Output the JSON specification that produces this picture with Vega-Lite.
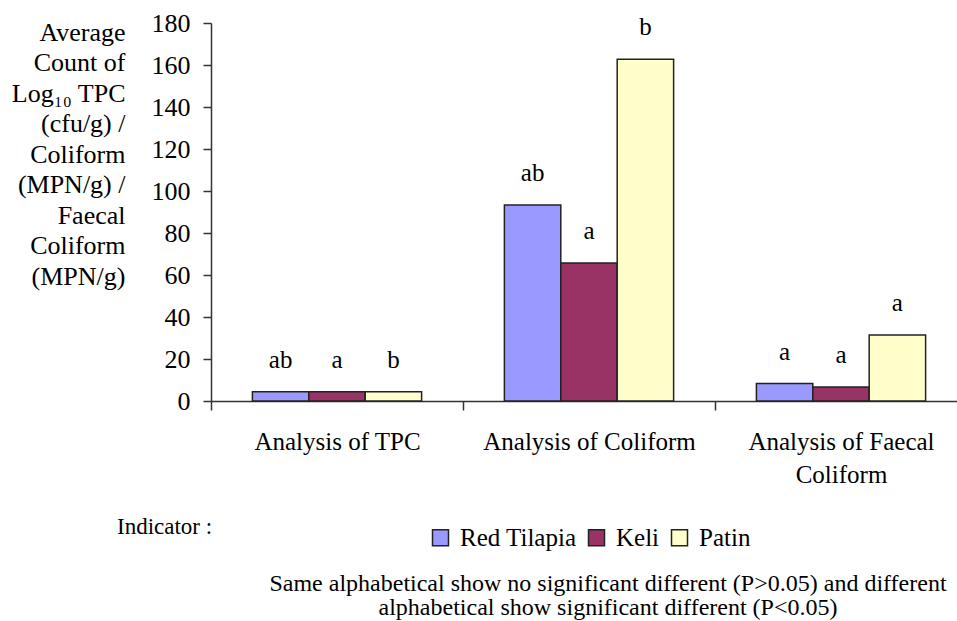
{
  "$schema": "https://vega.github.io/schema/vega-lite/v6.json",
  "autosize": {"type": "none"},
  "width": 746,
  "height": 378,
  "padding": {"left": 211, "top": 23, "right": 0, "bottom": 220},
  "background": "white",
  "config": {
    "font": "Times New Roman, Liberation Serif, serif",
    "view": {"stroke": null},
    "axis": {"labelFont": "Times New Roman, Liberation Serif, serif", "titleFont": "Times New Roman, Liberation Serif, serif", "labelColor": "black", "titleColor": "black", "domainColor": "#333", "tickColor": "#333", "domainWidth": 1.5, "tickWidth": 1.5, "grid": false},
    "legend": {"labelFont": "Times New Roman, Liberation Serif, serif", "titleFont": "Times New Roman, Liberation Serif, serif"},
    "title": {"font": "Times New Roman, Liberation Serif, serif"},
    "text": {"font": "Times New Roman, Liberation Serif, serif"}
  },
  "title": {
    "text": ["Same alphabetical show no significant different (P>0.05) and different", "alphabetical show significant different (P<0.05)"],
    "orient": "bottom",
    "anchor": "middle",
    "frame": "group",
    "fontSize": 24,
    "fontWeight": "normal",
    "lineHeight": 24,
    "color": "black",
    "dx": 24,
    "offset": 12
  },
  "data": {
    "values": [
      {"analysis": "Analysis of TPC", "fish": "Red Tilapia", "value": 4.4, "sig": "ab"},
      {"analysis": "Analysis of TPC", "fish": "Keli", "value": 4.4, "sig": "a"},
      {"analysis": "Analysis of TPC", "fish": "Patin", "value": 4.4, "sig": "b"},
      {"analysis": "Analysis of Coliform", "fish": "Red Tilapia", "value": 93.3, "sig": "ab"},
      {"analysis": "Analysis of Coliform", "fish": "Keli", "value": 65.7, "sig": "a"},
      {"analysis": "Analysis of Coliform", "fish": "Patin", "value": 162.7, "sig": "b"},
      {"analysis": "Analysis of Faecal Coliform", "fish": "Red Tilapia", "value": 8.3, "sig": "a"},
      {"analysis": "Analysis of Faecal Coliform", "fish": "Keli", "value": 6.7, "sig": "a"},
      {"analysis": "Analysis of Faecal Coliform", "fish": "Patin", "value": 31.4, "sig": "a"}
    ]
  },
  "encoding": {
    "x": {
      "field": "analysis",
      "type": "nominal",
      "sort": ["Analysis of TPC", "Analysis of Coliform", "Analysis of Faecal Coliform"],
      "scale": {"range": [0, 756], "paddingInner": 0, "paddingOuter": 0},
      "axis": {
        "title": null,
        "labelAngle": 0,
        "labelFontSize": 25,
        "labelPadding": 19,
        "labelBaseline": "top",
        "labelLineHeight": 33,
        "labelLimit": 400,
        "tickSize": 9,
        "tickBand": "extent",
        "labelExpr": "datum.label == 'Analysis of Faecal Coliform' ? ['Analysis of Faecal', 'Coliform'] : datum.label"
      }
    },
    "xOffset": {
      "field": "fish",
      "type": "nominal",
      "sort": ["Red Tilapia", "Keli", "Patin"],
      "scale": {"paddingInner": 0, "paddingOuter": 0.734}
    },
    "y": {
      "field": "value",
      "type": "quantitative",
      "scale": {"domain": [0, 180], "nice": false},
      "axis": {
        "values": [0, 20, 40, 60, 80, 100, 120, 140, 160, 180],
        "labelFontSize": 26,
        "labelPadding": 13,
        "tickSize": 8,
        "title": ["Average", "Count of", "Log₁₀ TPC", "(cfu/g) /", "Coliform", "(MPN/g) /", "Faecal", "Coliform", "(MPN/g)"],
        "titleAngle": 0,
        "titleAlign": "right",
        "titleBaseline": "top",
        "titleFontSize": 26,
        "titleFontWeight": "normal",
        "titleLineHeight": 30.5,
        "titleX": -86,
        "titleY": -4
      }
    }
  },
  "layer": [
    {
      "mark": {"type": "bar", "stroke": "#222", "strokeWidth": 1.5},
      "encoding": {
        "color": {
          "field": "fish",
          "type": "nominal",
          "sort": ["Red Tilapia", "Keli", "Patin"],
          "scale": {"domain": ["Red Tilapia", "Keli", "Patin"], "range": ["#9999FF", "#993366", "#FFFFCC"]},
          "legend": {
            "title": ["Indicator :", ""],
            "titleOrient": "left",
            "titleFontSize": 23,
            "titleFontWeight": "normal",
            "titleColor": "black",
            "titleBaseline": "middle",
            "titleLineHeight": 21,
            "titlePadding": 215,
            "orient": "none",
            "direction": "horizontal",
            "legendX": -94,
            "legendY": 502,
            "symbolType": "square",
            "symbolSize": 256,
            "symbolStrokeColor": "#222",
            "symbolStrokeWidth": 1.5,
            "symbolOpacity": 1,
            "labelFontSize": 25,
            "labelColor": "black",
            "labelOffset": 7,
            "columnPadding": 7
          }
        }
      }
    },
    {
      "mark": {"type": "text", "fontSize": 25, "color": "black", "baseline": "middle", "dy": -32},
      "encoding": {
        "text": {"field": "sig"}
      }
    }
  ]
}
